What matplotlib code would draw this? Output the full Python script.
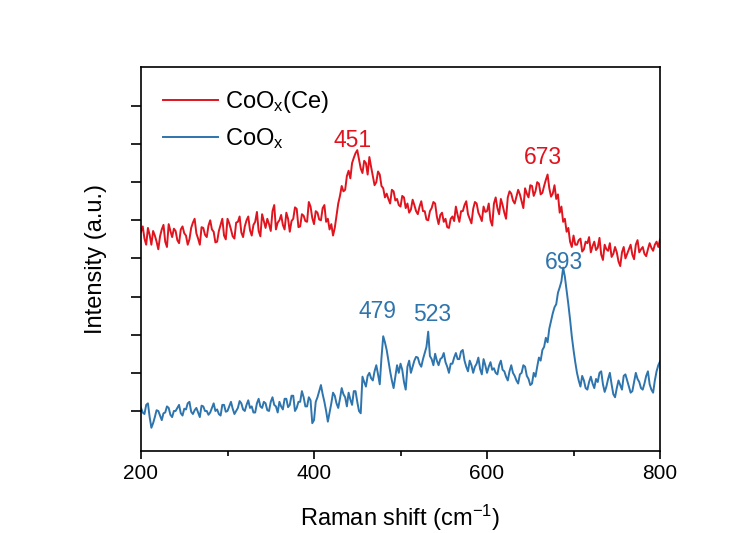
import numpy as np
import matplotlib.pyplot as plt

plt.rcParams['font.family'] = ['Liberation Sans', 'DejaVu Sans']
plt.rcParams['mathtext.fontset'] = 'custom'
plt.rcParams['mathtext.rm'] = 'Liberation Sans'
plt.rcParams['mathtext.it'] = 'Liberation Sans'

# Raman shift grid (cm-1), 2 cm-1 steps
shift = np.arange(200, 801, 2)

# CoOx(Ce) spectrum, a.u. (one row = 40 cm-1)
int_ce = [
    335, 342, 326, 318, 340, 331, 318, 336, 330, 322, 312, 329, 338, 344, 322, 315, 345, 336, 328, 339,
    336, 324, 320, 338, 342, 333, 330, 318, 325, 340, 347, 352, 333, 326, 318, 341, 340, 331, 328, 343,
    350, 338, 335, 321, 322, 336, 344, 352, 330, 325, 352, 346, 338, 329, 326, 347, 348, 355, 334, 328,
    342, 350, 355, 337, 330, 344, 348, 361, 336, 329, 358, 349, 340, 352, 345, 336, 362, 370, 338, 347,
    350, 357, 344, 338, 360, 352, 335, 349, 352, 367, 365, 341, 342, 358, 356, 349, 348, 374, 368, 353,
    345, 362, 360, 351, 350, 366, 370, 348, 352, 338, 345, 330, 340, 356, 372, 382, 395, 388, 390, 408,
    415, 405, 425, 432, 438, 442, 430, 418, 412, 428, 425, 410, 433, 420, 408, 396, 400, 414, 410, 395,
    392, 380, 385, 378, 372, 390, 388, 376, 378, 370, 368, 382, 380, 366, 372, 360, 364, 377, 370, 362,
    358, 368, 375, 362, 362, 351, 350, 362, 366, 374, 372, 355, 345, 357, 360, 348, 352, 341, 340, 352,
    355, 349, 368, 357, 348, 362, 362, 370, 375, 358, 352, 346, 365, 374, 372, 360, 355, 349, 368, 361,
    362, 372, 350, 343, 372, 380, 366, 358, 378, 370, 360, 352, 380, 388, 385, 376, 372, 381, 390, 384,
    375, 366, 392, 385, 380, 396, 395, 382, 388, 400, 398, 384, 386, 395, 403, 410, 392, 381, 385, 396,
    378, 384, 360, 368, 348, 352, 335, 340, 322, 315, 330, 318, 318, 324, 326, 309, 312, 322, 320, 328,
    308, 316, 322, 311, 314, 327, 305, 298, 318, 312, 310, 320, 302, 306, 315, 308, 296, 290, 308, 315,
    300, 306, 312, 318, 305, 299, 318, 324, 308, 312, 315, 306, 303, 312, 320, 314, 310, 318, 322, 315,
    325,
]

# CoOx spectrum, a.u.
int_co = [
    104, 98, 96, 108, 110, 92, 78, 84, 92, 101, 100, 94, 88, 97, 98, 106, 104, 95, 92, 100,
    100, 104, 108, 97, 94, 103, 102, 110, 112, 99, 96, 101, 104, 98, 92, 107, 106, 100, 100, 95,
    98, 104, 110, 100, 102, 96, 94, 108, 108, 99, 100, 106, 112, 103, 96, 100, 104, 113, 110, 102,
    100, 108, 114, 104, 106, 98, 98, 110, 116, 106, 104, 112, 110, 101, 100, 112, 118, 108, 106, 98,
    112, 106, 102, 116, 116, 105, 108, 120, 120, 100, 104, 112, 112, 126, 118, 106, 106, 118, 114, 84,
    88, 112, 118, 126, 134, 122, 112, 100, 86, 98, 110, 124, 120, 110, 104, 116, 130, 122, 118, 106,
    124, 115, 108, 126, 126, 112, 100, 97, 145, 138, 132, 146, 150, 143, 140, 152, 160, 148, 135, 170,
    198, 190, 180, 166, 152, 140, 130, 145, 160, 150, 162, 154, 138, 128, 158, 166, 150, 158, 166, 171,
    170, 162, 158, 168, 176, 184, 204, 172, 168, 160, 175, 166, 160, 168, 170, 176, 164, 158, 150, 162,
    162, 170, 176, 168, 168, 178, 180, 166, 158, 152, 166, 160, 150, 158, 162, 170, 155, 148, 168, 160,
    150, 158, 164, 154, 156, 150, 148, 160, 166, 154, 152, 145, 140, 152, 160, 150, 146, 140, 136, 148,
    150, 160, 158, 146, 142, 134, 136, 150, 145, 158, 170, 166, 180, 184, 196, 190, 208, 218, 228, 236,
    240, 255, 262, 270, 288, 276, 258, 240, 220, 198, 180, 164, 150, 140, 132, 146, 140, 130, 128, 138,
    145, 136, 130, 142, 138, 150, 152, 135, 125, 132, 142, 150, 135, 122, 118, 130, 140, 134, 128, 146,
    148, 140, 132, 124, 126, 138, 150, 142, 138, 130, 128, 136, 146, 152, 135, 128, 124, 140, 152, 160,
    165,
]

# peak labels (text, x, y)
peak_ce = [('451', 445, 455), ('673', 665, 432)]
peak_co = [('479', 473, 230), ('523', 536, 227), ('693', 689, 295)]

red = '#e0141e'
blue = '#2e74ad'

fig = plt.figure(figsize=(7.52, 5.33), dpi=100)
ax = fig.add_axes([0.1875, 0.1538, 0.6902, 0.7205])

ax.plot(shift, int_ce, color=red, lw=1.4, label=r'CoO$_\mathrm{x}$(Ce)')
ax.plot(shift, int_co, color=blue, lw=1.4, label=r'CoO$_\mathrm{x}$')

for txt, px, py in peak_ce:
    ax.text(px, py, txt, color=red, fontsize=16.5, ha='center', va='center')
for txt, px, py in peak_co:
    ax.text(px, py, txt, color=blue, fontsize=16.5, ha='center', va='center')

ax.set_xlim(200, 800)
ax.set_ylim(47.5, 551)
ax.set_xticks([200, 400, 600, 800])
ax.set_xticks([300, 500, 700], minor=True)
ax.set_yticks(np.arange(100, 501, 50))
ax.set_yticklabels([])
ax.tick_params(axis='x', which='major', direction='out', length=6, width=1.2, labelsize=15)
ax.tick_params(axis='x', which='minor', direction='out', length=3.5, width=1.2)
ax.tick_params(axis='y', which='major', direction='out', length=7, width=1.2)
for s in ax.spines.values():
    s.set_linewidth(1.2)

ax.set_xlabel(r'Raman shift (cm$^{-1}$)', fontsize=17, labelpad=14)
ax.set_ylabel('Intensity (a.u.)', fontsize=17, labelpad=14)

ax.legend(loc='upper left', frameon=False, fontsize=17, handlelength=2.3,
          labelspacing=0.45, borderaxespad=0.55, handletextpad=0.3)

fig.savefig('out.png', dpi=100, facecolor='white')
